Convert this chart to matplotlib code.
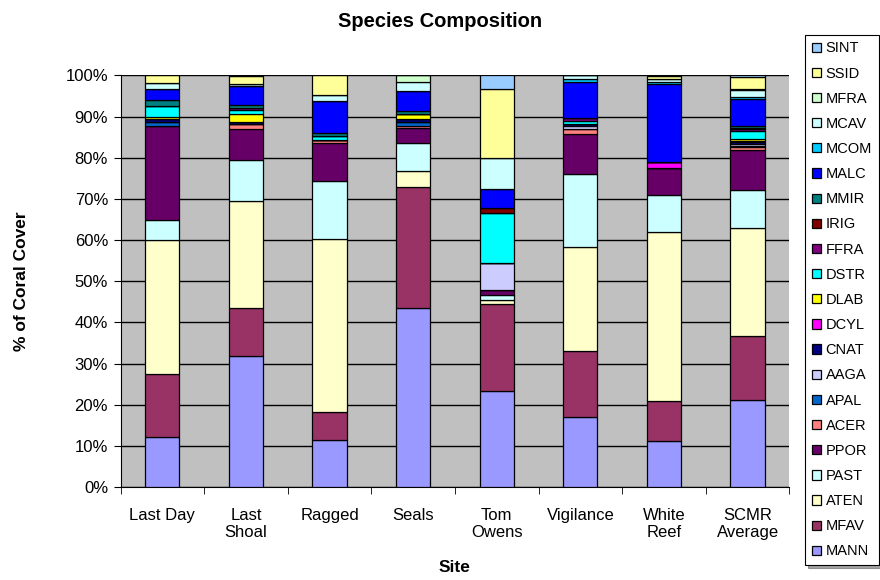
import matplotlib
matplotlib.use('Agg')
import matplotlib.pyplot as plt
import numpy as np

plt.rcParams['font.family'] = ['Liberation Sans', 'DejaVu Sans']

# 站点与物种（自下而上堆叠）
sites = ['Last Day', 'Last\nShoal', 'Ragged', 'Seals', 'Tom\nOwens', 'Vigilance', 'White\nReef', 'SCMR\nAverage']
species = ['MANN', 'MFAV', 'ATEN', 'PAST', 'PPOR', 'ACER', 'APAL', 'AAGA', 'CNAT', 'DCYL', 'DLAB',
           'DSTR', 'FFRA', 'IRIG', 'MMIR', 'MALC', 'MCOM', 'MCAV', 'MFRA', 'SSID', 'SINT']

# 各物种在 8 个站点的覆盖百分比
MANN = [12.1, 31.8, 11.4, 43.4, 23.3, 17.0, 11.2, 21.1]
MFAV = [15.3, 11.6, 6.8, 29.5, 21.1, 16.0, 9.7, 15.6]
ATEN = [32.6, 26.0, 42.0, 4.0, 1.1, 25.3, 41.0, 26.2]
PAST = [5.0, 10.0, 14.1, 6.6, 1.2, 17.7, 9.0, 9.2]
PPOR = [22.7, 7.7, 9.4, 3.8, 1.2, 9.8, 6.7, 9.9]
ACER = [0, 1.2, 0.6, 0.5, 0, 1.2, 0, 0.5]
APAL = [1.0, 0, 0, 0.8, 0, 0, 0, 0.4]
AAGA = [0, 0, 0, 0, 6.6, 0.7, 0, 0.5]
CNAT = [0.6, 0.3, 0, 0.8, 0, 0.6, 0, 0.5]
DCYL = [0, 0, 0, 0, 0, 0, 1.3, 0.1]
DLAB = [0.5, 2.0, 0, 1.2, 0, 0, 0, 0.6]
DSTR = [2.8, 1.0, 1.0, 0, 12.2, 0.7, 0, 1.9]
FFRA = [0, 0.5, 0, 0, 0, 0.7, 0, 0.4]
IRIG = [0, 0, 0, 0, 1.2, 0, 0, 0.3]
MMIR = [1.5, 0.6, 0.6, 0.7, 0, 0, 0, 0.5]
MALC = [2.5, 4.7, 7.9, 5.0, 4.4, 8.6, 18.9, 6.6]
MCOM = [0, 0, 0, 0, 0, 0.8, 0.7, 0.5]
MCAV = [1.5, 0.5, 1.5, 2.1, 7.7, 0.9, 0.7, 1.6]
MFRA = [0, 0, 0, 1.6, 0, 0, 0, 0.4]
SSID = [1.9, 2.0, 4.7, 0, 16.8, 0, 0.7, 2.8]
SINT = [0, 0, 0, 0, 3.2, 0, 0, 0.4]

values = [MANN, MFAV, ATEN, PAST, PPOR, ACER, APAL, AAGA, CNAT, DCYL, DLAB,
          DSTR, FFRA, IRIG, MMIR, MALC, MCOM, MCAV, MFRA, SSID, SINT]
colors = ['#9999FF', '#993366', '#FFFFCC', '#CCFFFF', '#660066', '#FF8080', '#0066CC', '#CCCCFF',
          '#000080', '#FF00FF', '#FFFF00', '#00FFFF', '#800080', '#800000', '#008080', '#0000FF',
          '#00CCFF', '#CCFFFF', '#CCFFCC', '#FFFF99', '#99CCFF']

fig = plt.figure(figsize=(8.8, 5.8), dpi=100)
ax = fig.add_axes([0.137, 0.16, 0.76, 0.71])
ax.set_facecolor('#C0C0C0')

x = np.arange(len(sites))
bottom = np.zeros(len(sites))
handles = []
for name, vals, c in zip(species, values, colors):
    vals = np.array(vals, dtype=float)
    b = ax.bar(x, vals, bottom=bottom, width=0.41, color=c, edgecolor='black', linewidth=0.9,
               label=name, zorder=3)
    handles.append(b)
    bottom += vals

ax.set_xlim(-0.5, len(sites) - 0.5)
ax.set_ylim(0, 100)
ax.set_yticks(np.arange(0, 101, 10))
ax.set_yticklabels([f'{v}%' for v in range(0, 101, 10)])
ax.yaxis.grid(True, color='black', linewidth=1.0, zorder=0)
ax.set_axisbelow(True)

ax.set_xticks(x)
ax.set_xticklabels(sites)
ax.set_xticks(np.arange(-0.5, len(sites), 1), minor=True)
ax.tick_params(axis='x', which='major', length=0, pad=15, labelsize=12)
ax.tick_params(axis='x', which='minor', length=5, direction='out')
ax.tick_params(axis='y', length=5, direction='out', labelsize=12, pad=4)

for s in ['top', 'right']:
    ax.spines[s].set_visible(False)
ax.spines['left'].set_color('black')
ax.spines['bottom'].set_color('black')

fig.text(0.5, 1 - 27 / 580, 'Species Composition', fontsize=14.5, fontweight='bold',
         ha='center', va='baseline')
ax.set_xlabel('Site', fontsize=12.5, fontweight='bold', labelpad=14)
ax.set_ylabel('% of Coral Cover', fontsize=12.5, fontweight='bold', labelpad=26)

leg = fig.legend(handles[::-1], species[::-1], loc='upper left', bbox_to_anchor=(0.915, 0.94),
                 fontsize=10.5, labelspacing=0.765, handlelength=0.6, handleheight=0.6,
                 handletextpad=0.35, borderpad=0.45, borderaxespad=0, fancybox=False,
                 shadow=True, edgecolor='black', framealpha=1)
leg.get_frame().set_linewidth(0.8)

plt.savefig('out.png', dpi=100)
